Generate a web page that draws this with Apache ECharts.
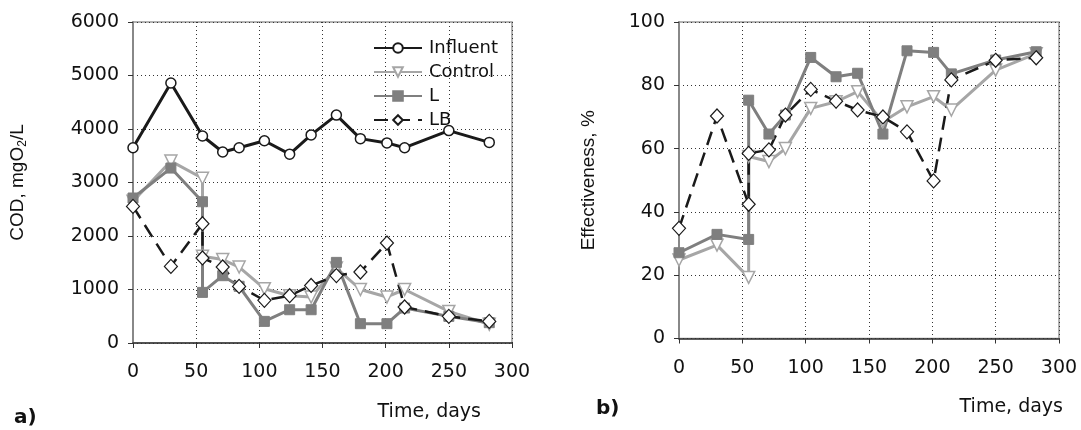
<!DOCTYPE html>
<html>
<head>
<meta charset="utf-8">
<script src="https://cdn.jsdelivr.net/npm/echarts@6/dist/echarts.min.js"></script>
<style>
  html, body { margin: 0; padding: 0; background: #fff; }
  #chart { width: 1081px; height: 430px; }
</style>
</head>
<body>
<div id="chart"></div>
<script>
// sampling days (the day-55 sample appears twice: before / after the change)
var days = [0, 30, 55, 55, 71, 84, 104, 124, 141, 161, 180, 201, 215, 250, 282]
var influentDays = [0, 30, 55, 71, 84, 104, 124, 141, 161, 180, 201, 215, 250, 282]

// a) COD, mgO2/L
var codInfluent = [3650, 4860, 3870, 3570, 3650, 3780, 3530, 3890, 4260, 3820, 3740, 3650, 3970, 3750]
var codControl = [2650, 3400, 3080, 1620, 1560, 1420, 1015, 884, 860, 1400, 1000, 860, 1000, 590, 350]
var codL = [2710, 3270, 2640, 946, 1258, 1060, 404, 622, 622, 1507, 361, 361, 654, 498, 380]
var codLB = [2553, 1432, 2230, 1589, 1421, 1058, 797, 884, 1075, 1260, 1327, 1869, 673, 498, 404]

// b) Effectiveness, %
var effControl = [24.8, 29.5, 19.3, 57.5, 55.9, 60, 72.7, 74.8, 78, 68.5, 73.2, 76.4, 72.2, 84.8, 90]
var effL = [27.1, 32.9, 31.3, 75.3, 64.6, 70.6, 88.8, 82.7, 83.8, 64.6, 90.9, 90.4, 83.6, 88, 90.6]
var effLB = [34.8, 70.3, 42.4, 58.5, 59.6, 70.6, 78.7, 75, 72.2, 70, 65.3, 49.8, 81.7, 87.9, 88.7]

var pair = function (xs, ys) {
  return ys.map(function (v, i) { return [xs[i], v] })
}

var FONT = 'DejaVu Sans'
var GRAY_C = '#a6a6a6'
var GRAY_L = '#7f7f7f'
var INK = '#111'

var styles = {
  Influent: {
    symbol: 'circle', symbolSize: 10,
    itemStyle: { color: '#fff', borderColor: '#1a1a1a', borderWidth: 1.5 },
    lineStyle: { color: '#1a1a1a', width: 3 }
  },
  Control: {
    symbol: 'triangle', symbolRotate: 180, symbolSize: 12,
    itemStyle: { color: '#fff', borderColor: GRAY_C, borderWidth: 1.5 },
    lineStyle: { color: GRAY_C, width: 3 }
  },
  L: {
    symbol: 'rect', symbolSize: 10,
    itemStyle: { color: GRAY_L, borderColor: GRAY_L, borderWidth: 1 },
    lineStyle: { color: GRAY_L, width: 3 }
  },
  LB: {
    symbol: 'diamond', symbolSize: [13, 14],
    itemStyle: { color: '#fff', borderColor: '#1a1a1a', borderWidth: 1.2 },
    lineStyle: { color: '#1a1a1a', width: 2.5, type: [14, 8] }
  }
}

var mkSeries = function (name, idx, data) {
  var s = styles[name]
  return {
    name: name, type: 'line', xAxisIndex: idx, yAxisIndex: idx,
    data: data, symbol: s.symbol, symbolSize: s.symbolSize,
    symbolRotate: s.symbolRotate || 0, showAllSymbol: true,
    itemStyle: s.itemStyle, lineStyle: s.lineStyle, animation: false,
    emphasis: { disabled: true }
  }
}

var xAxisBase = function (idx) {
  return {
    type: 'value', gridIndex: idx, min: 0, max: 300, interval: 50,
    axisLine: { onZero: false, lineStyle: { color: '#333', width: 1.5 } },
    axisTick: { show: true, length: 5, lineStyle: { color: '#333' } },
    axisLabel: { fontFamily: FONT, fontSize: 19, color: INK, margin: 20 },
    splitLine: { show: true, lineStyle: { color: '#333', width: 1, type: [1, 3] } }
  }
}

var yAxisBase = function (idx, max, interval, name, gap) {
  return {
    type: 'value', gridIndex: idx, min: 0, max: max, interval: interval,
    name: name, nameLocation: 'middle', nameGap: gap,
    nameTextStyle: { fontFamily: 'Liberation Sans', fontSize: 19, color: INK,
      rich: { sub: { fontFamily: 'Liberation Sans', fontSize: 12, color: INK,
        verticalAlign: 'bottom', padding: [10, 0, 0, 0] } } },
    axisLine: { show: true, lineStyle: { color: '#888', width: 2 } },
    axisTick: { show: true, length: 5, lineStyle: { color: '#333' } },
    axisLabel: { fontFamily: FONT, fontSize: 19, color: INK, margin: 14,
      formatter: function (v) { return String(v) } },
    splitLine: { show: true, lineStyle: { color: '#333', width: 1, type: [1, 3] } }
  }
}

var option = {
  backgroundColor: '#fff',
  animation: false,
  grid: [
    { left: 133, top: 22, width: 379, height: 321, show: true,
      borderColor: '#999', borderWidth: 1.5, backgroundColor: 'transparent' },
    { left: 679, top: 22, width: 380, height: 316.5, show: true,
      borderColor: '#999', borderWidth: 1.5, backgroundColor: 'transparent' }
  ],
  legend: {
    data: ['Influent', 'Control', 'L', 'LB'],
    orient: 'vertical', left: 368, top: 34,
    itemWidth: 48, itemHeight: 12, itemGap: 6,
    textStyle: { fontFamily: FONT, fontSize: 18, color: INK, padding: [0, 0, 0, 2] },
    selectedMode: false
  },
  xAxis: [xAxisBase(0), xAxisBase(1)],
  yAxis: [
    yAxisBase(0, 6000, 1000, 'COD, mgO{sub|2}/L', 104),
    yAxisBase(1, 100, 20, 'Effectiveness, %', 81)
  ],
  series: [
    mkSeries('Control', 0, pair(days, codControl)),
    mkSeries('L', 0, pair(days, codL)),
    mkSeries('LB', 0, pair(days, codLB)),
    mkSeries('Influent', 0, pair(influentDays, codInfluent)),
    mkSeries('Control', 1, pair(days, effControl)),
    mkSeries('L', 1, pair(days, effL)),
    mkSeries('LB', 1, pair(days, effLB))
  ],
  graphic: [
    { type: 'text', right: 1081 - 481, top: 403,
      style: { text: 'Time, days', font: '19px "DejaVu Sans"', fill: INK } },
    { type: 'text', right: 1081 - 1063, top: 398,
      style: { text: 'Time, days', font: '19px "DejaVu Sans"', fill: INK } },
    { type: 'text', left: 14, top: 408,
      style: { text: 'a)', font: 'bold 20px "DejaVu Sans"', fill: INK } },
    { type: 'text', left: 596, top: 399,
      style: { text: 'b)', font: 'bold 20px "DejaVu Sans"', fill: INK } }
  ]
}

var myChart = echarts.init(document.getElementById('chart'))
myChart.setOption(option)
</script>
</body>
</html>
